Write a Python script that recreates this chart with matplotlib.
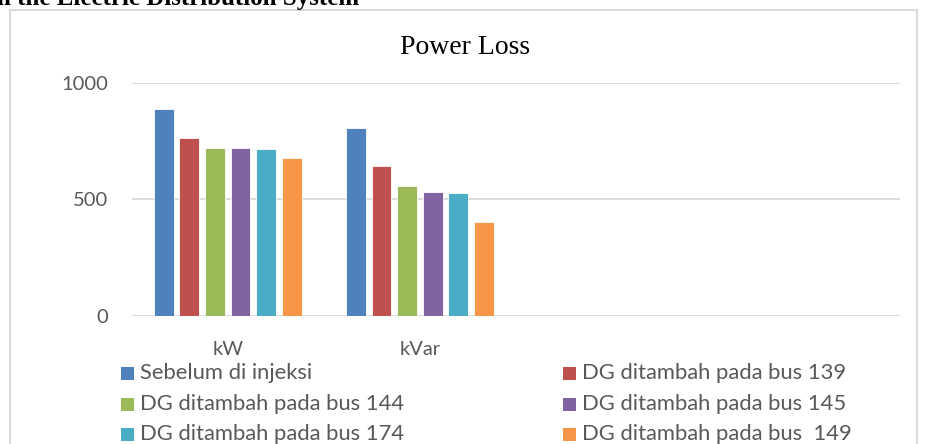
import matplotlib
matplotlib.use("Agg")
import matplotlib.pyplot as plt
import numpy as np
from matplotlib.patches import Rectangle

# data
categories = ["kW", "kVar", "", ""]
series_names = [
    "Sebelum di injeksi",
    "DG ditambah pada bus 139",
    "DG ditambah pada bus 144",
    "DG ditambah pada bus 145",
    "DG ditambah pada bus 174",
    "DG ditambah pada bus  149",
]
sebelum = [888, 806]
bus139 = [765, 642]
bus144 = [718, 558]
bus145 = [718, 533]
bus174 = [717, 527]
bus149 = [679, 402]
colors = ["#4F81BD", "#C0504D", "#9BBB59", "#8064A2", "#4BACC6", "#F79646"]

series = [sebelum, bus139, bus144, bus145, bus174, bus149]

FONT = ["Lato", "DejaVu Sans"]
GRAY = "#595959"
W, H = 928, 444

fig = plt.figure(figsize=(W / 100, H / 100), dpi=100)

# chart frame
fig.patches.append(Rectangle((10 / W, -0.05), 907 / W, 1 - 10 / H + 0.05,
                             transform=fig.transFigure, fill=False,
                             edgecolor="#d9d9d9", linewidth=1.5))

# heading of the page, cut off at the top
fig.text(-0.003, 1 - 5 / H, "n the Electric Distribution System", family="Liberation Serif",
         fontweight="bold", fontsize=18, ha="left", va="baseline")

ax = fig.add_axes([131.7 / W, 1 - 316 / H, (900 - 131.7) / W, (316 - 82.7) / H])

x = np.arange(len(categories))
step = 0.133
width = 0.104
for i, (vals, c) in enumerate(zip(series, colors)):
    pos = x[:len(vals)] + (i - 2.5) * step
    ax.bar(pos, vals, width, color=c, edgecolor="white", linewidth=0.6)

ax.set_xlim(-0.5, len(categories) - 0.5)
ax.set_ylim(0, 1000)
ax.set_yticks([0, 500, 1000])
ax.yaxis.grid(True, color="#d9d9d9", linewidth=1.3)
ax.set_axisbelow(True)
for s in ax.spines.values():
    s.set_visible(False)
ax.tick_params(length=0, labelsize=14.5, labelcolor=GRAY)
ax.tick_params(axis="y", pad=17)
ax.tick_params(axis="x", pad=18)
ax.set_xticks(x)
ax.set_xticklabels(categories)
for lab in ax.get_xticklabels() + ax.get_yticklabels():
    lab.set_family(FONT)

fig.text(465 / W, 1 - 47 / H, "Power Loss", family="Liberation Serif",
         fontsize=20, ha="center", va="center")

# legend: two columns, filled row by row
sq_x = [121, 563]
txt_x = [140, 582]
row_y = [373, 404, 434]
sq = 13
for i, (name, c) in enumerate(zip(series_names, colors)):
    col, row = i % 2, i // 2
    fig.patches.append(Rectangle((sq_x[col] / W, 1 - (row_y[row] + sq / 2) / H),
                                 sq / W, sq / H, transform=fig.transFigure,
                                 facecolor=c, edgecolor="none"))
    fig.text(txt_x[col] / W, 1 - row_y[row] / H, name, family=FONT, fontsize=15.8,
             color=GRAY, ha="left", va="center")

fig.savefig("out.png", dpi=100)
